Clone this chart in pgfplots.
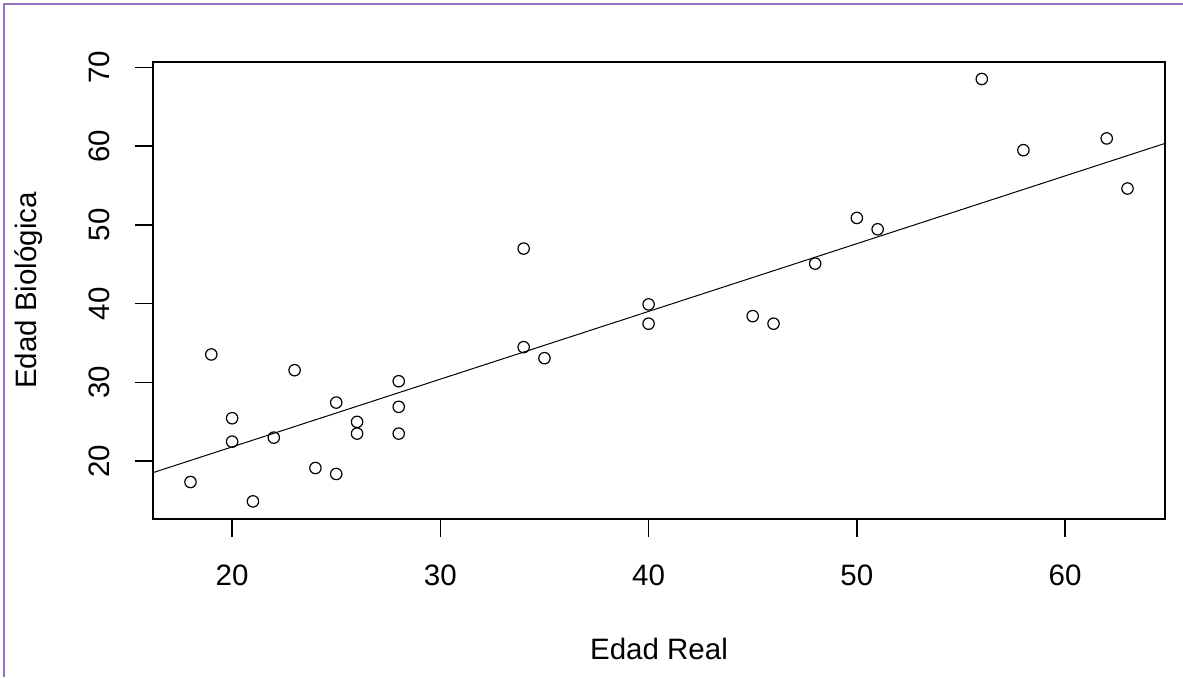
\documentclass[border=0pt]{standalone}
\usepackage{fontspec}
\setmainfont{Liberation Sans}
\usepackage{pgfplots}
\pgfplotsset{compat=1.18}
\definecolor{framepurple}{RGB}{150,110,195}
\begin{document}
\begin{tikzpicture}
\begin{axis}[
  at={(0,0)}, anchor=south west,
  scale only axis,
  width=506pt, height=228.5pt,
  xmin=16.2, xmax=64.8,
  ymin=12.65, ymax=70.7,
  xtick={20,30,40,50,60},
  ytick={20,30,40,50,60,70},
  tick pos=left,
  tick align=outside,
  major tick length=9pt,
  axis line style={line width=0.8pt},
  every tick/.style={line width=0.8pt, black},
  font=\fontsize{14.75}{17}\selectfont,
  /pgf/number format/assume math mode=true,
  xticklabel style={anchor=base, yshift=-24pt},
  yticklabel style={xshift=-12.6pt, rotate=90, anchor=base},
  every axis x label/.style={at={(axis description cs:0.5,0)}, anchor=base, yshift=-70pt},
  every axis y label/.style={at={(axis description cs:0,0.5)}, xshift=-58.25pt, rotate=90, anchor=base},
  xlabel={Edad Real},
  ylabel={Edad Biológica},
  clip=true,
]
\addplot[only marks, mark=o, mark size=2.85pt, mark options={line width=0.6pt, black}] coordinates {
(18,17.35) (19,33.55) (20,25.45) (20,22.48) (21,14.89) (22,22.99) (23,31.55)
(24,19.13) (25,27.44) (25,18.37) (26,24.99) (26,23.5) (28,30.15) (28,26.9)
(28,23.5) (34,47.0) (34,34.48) (35,33.08) (40,39.91) (40,37.46) (45,38.42)
(46,37.46) (48,45.09) (50,50.89) (51,49.45) (56,68.54) (58,59.5) (62,60.99)
(63,54.63)
};
\addplot[black, line width=0.5pt] coordinates {(16.2,18.54) (64.8,60.36)};
\end{axis}
\draw[framepurple, line width=1pt] (-74.5pt,-79pt) -- (-74.5pt,257.5pt) -- (515pt,257.5pt);
\pgfresetboundingbox
\useasboundingbox (-76.5pt,-79pt) rectangle (515pt,259.5pt);
\end{tikzpicture}
\end{document}
